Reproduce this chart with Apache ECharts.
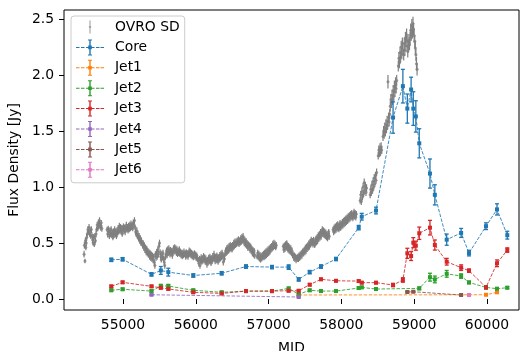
<!DOCTYPE html>
<html>
<head>
<meta charset="utf-8">
<script src="https://cdn.jsdelivr.net/npm/echarts@6/dist/echarts.min.js"></script>
<style>html,body{margin:0;padding:0;background:#fff}#chart{width:521px;height:351px}</style>
</head>
<body>
<div id="chart"></div>
<script>
// ---------- data ----------
const xTicks = [55000, 56000, 57000, 58000, 59000, 60000];
const yTicks = [0.0, 0.5, 1.0, 1.5, 2.0, 2.5];
const seriesNames = ['OVRO SD', 'Core', 'Jet1', 'Jet2', 'Jet3', 'Jet4', 'Jet5', 'Jet6'];
const seriesColors = ['#808080', '#1f77b4', '#ff7f0e', '#2ca02c', '#d62728', '#9467bd', '#8c564b', '#e377c2'];

// OVRO single-dish light curve: [MJD, flux, error]
const ovroPoints = [
[54466,0.40,0.03],[54470,0.48,0.03],[54478,0.34,0.02],[54484,0.52,0.03],[54490,0.46,0.025],[54496,0.50,0.03],[54502,0.55,0.03],[54510,0.58,0.025],[54518,0.62,0.03],[54526,0.60,0.025],[54534,0.64,0.03],[54542,0.58,0.025],[54550,0.61,0.03],[54558,0.56,0.025],[54566,0.62,0.03],[54574,0.57,0.025],[54582,0.53,0.03],[54590,0.50,0.025],[54598,0.55,0.03],[54606,0.49,0.025],[54614,0.56,0.03],[54622,0.52,0.025],[54630,0.58,0.03],[54638,0.62,0.025],[54646,0.66,0.03],[54654,0.63,0.025],[54662,0.68,0.03],[54670,0.65,0.025],[54678,0.70,0.03],[54686,0.66,0.025],[54694,0.64,0.03],[54702,0.68,0.025],[54710,0.63,0.03],
[54782,0.62,0.025],[54790,0.58,0.03],[54798,0.63,0.025],[54806,0.60,0.03],[54814,0.56,0.025],[54822,0.61,0.03],[54830,0.58,0.025],[54838,0.62,0.03],[54846,0.57,0.025],[54854,0.59,0.03],[54862,0.55,0.025],[54870,0.60,0.03],[54878,0.57,0.025],[54886,0.62,0.03],[54894,0.58,0.025],[54902,0.60,0.03],[54910,0.56,0.025],[54918,0.61,0.03],[54926,0.59,0.025],[54934,0.63,0.03],[54942,0.60,0.025],[54950,0.65,0.03],[54958,0.61,0.025],[54966,0.64,0.03],[54974,0.60,0.025],[54982,0.63,0.03],[54990,0.58,0.025],[54998,0.62,0.03],[55006,0.65,0.025],[55014,0.61,0.03],[55022,0.64,0.025],[55030,0.60,0.03],[55038,0.63,0.025],[55046,0.66,0.03],[55054,0.62,0.025],[55062,0.64,0.03],[55070,0.61,0.025],[55078,0.65,0.03],[55086,0.62,0.025],[55094,0.66,0.03],[55102,0.63,0.025],[55110,0.67,0.03],[55118,0.64,0.025],[55126,0.66,0.03],[55134,0.63,0.025],[55142,0.68,0.03],[55150,0.66,0.025],[55158,0.70,0.03],[55166,0.64,0.025],[55174,0.60,0.03],[55182,0.58,0.025],[55190,0.61,0.03],[55198,0.56,0.025],[55206,0.58,0.03],[55214,0.54,0.025],[55222,0.56,0.03],[55230,0.52,0.025],[55238,0.54,0.03],[55246,0.50,0.025],[55254,0.52,0.03],
[55262,0.50,0.025],[55270,0.48,0.03],[55278,0.50,0.025],[55286,0.46,0.03],[55294,0.48,0.025],[55302,0.44,0.03],[55310,0.46,0.025],[55318,0.42,0.03],[55326,0.45,0.025],[55334,0.41,0.03],[55342,0.43,0.025],[55350,0.40,0.03],[55358,0.42,0.025],[55366,0.38,0.03],[55374,0.41,0.025],[55382,0.37,0.03],[55390,0.40,0.025],[55398,0.36,0.03],[55406,0.39,0.025],[55414,0.35,0.03],[55422,0.38,0.025],[55430,0.33,0.03],[55438,0.30,0.03],
[55446,0.40,0.025],[55454,0.37,0.03],[55462,0.42,0.025],[55470,0.38,0.03],[55478,0.44,0.025],[55486,0.40,0.03],[55494,0.47,0.025],[55502,0.50,0.03],[55510,0.42,0.025],[55518,0.38,0.03],[55526,0.35,0.025],[55534,0.40,0.03],[55542,0.37,0.025],[55550,0.41,0.03],[55558,0.36,0.025],[55566,0.33,0.03],[55574,0.30,0.03],[55582,0.37,0.025],
[55590,0.40,0.025],[55598,0.43,0.03],[55606,0.39,0.025],[55614,0.44,0.03],[55622,0.41,0.025],[55630,0.45,0.03],[55638,0.42,0.025],[55646,0.40,0.03],[55654,0.44,0.025],[55662,0.41,0.03],[55670,0.43,0.025],[55678,0.39,0.03],[55686,0.42,0.025],[55694,0.45,0.03],[55702,0.42,0.025],[55710,0.46,0.03],[55718,0.43,0.025],[55726,0.45,0.03],[55734,0.41,0.025],[55742,0.44,0.03],[55750,0.40,0.025],[55758,0.43,0.03],[55766,0.41,0.025],[55774,0.44,0.03],[55782,0.40,0.025],[55790,0.42,0.03],[55798,0.39,0.025],[55806,0.41,0.03],[55814,0.38,0.025],[55822,0.41,0.03],[55830,0.39,0.025],[55838,0.42,0.03],[55846,0.40,0.025],
[55854,0.41,0.025],[55862,0.38,0.03],[55870,0.42,0.025],[55878,0.39,0.03],[55886,0.41,0.025],[55894,0.38,0.03],[55902,0.40,0.025],[55910,0.43,0.03],[55918,0.40,0.025],[55926,0.42,0.03],[55934,0.39,0.025],[55942,0.41,0.03],[55950,0.38,0.025],[55958,0.40,0.03],[55966,0.37,0.025],[55974,0.39,0.03],[55982,0.41,0.025],[55990,0.38,0.03],[55998,0.40,0.025],[56006,0.37,0.03],[56014,0.39,0.025],[56022,0.36,0.03],
[56034,0.35,0.025],[56042,0.32,0.03],[56050,0.36,0.025],[56058,0.30,0.03],[56066,0.34,0.025],[56074,0.37,0.03],[56082,0.33,0.025],[56090,0.36,0.03],[56098,0.34,0.025],[56106,0.38,0.03],[56114,0.35,0.025],[56122,0.37,0.03],[56130,0.33,0.025],[56138,0.36,0.03],[56146,0.34,0.025],[56154,0.31,0.03],[56162,0.35,0.025],[56170,0.33,0.03],[56178,0.37,0.025],[56186,0.34,0.03],[56194,0.38,0.025],[56202,0.35,0.03],[56210,0.32,0.025],[56218,0.36,0.03],[56226,0.34,0.025],[56234,0.38,0.03],[56242,0.36,0.025],[56250,0.40,0.03],[56258,0.37,0.025],[56266,0.34,0.03],[56274,0.38,0.025],[56282,0.35,0.03],[56290,0.39,0.025],[56298,0.36,0.03],[56306,0.33,0.025],[56314,0.37,0.03],[56322,0.35,0.025],[56330,0.39,0.03],[56338,0.36,0.025],[56346,0.40,0.03],[56354,0.37,0.025],[56362,0.41,0.03],[56370,0.38,0.025],[56378,0.33,0.03],[56386,0.39,0.025],[56394,0.36,0.03],
[56402,0.40,0.025],[56410,0.43,0.03],[56418,0.41,0.025],[56426,0.45,0.03],[56434,0.42,0.025],[56442,0.46,0.03],[56450,0.43,0.025],[56458,0.47,0.03],[56466,0.44,0.025],[56474,0.48,0.03],[56482,0.45,0.025],[56490,0.47,0.03],[56498,0.44,0.025],[56506,0.48,0.03],[56514,0.46,0.025],[56522,0.50,0.03],[56530,0.47,0.025],[56538,0.51,0.03],
[56546,0.48,0.025],[56554,0.51,0.03],[56562,0.49,0.025],[56570,0.52,0.03],[56578,0.50,0.025],[56586,0.53,0.03],[56594,0.49,0.025],[56602,0.52,0.03],[56610,0.50,0.025],[56618,0.54,0.03],[56626,0.51,0.025],[56634,0.55,0.03],[56642,0.52,0.025],[56650,0.56,0.03],[56658,0.53,0.025],[56666,0.50,0.03],[56674,0.53,0.025],[56682,0.49,0.03],[56690,0.52,0.025],[56698,0.48,0.03],[56706,0.50,0.025],[56714,0.46,0.03],
[56722,0.49,0.025],[56730,0.46,0.03],[56738,0.48,0.025],[56746,0.44,0.03],[56754,0.47,0.025],[56762,0.43,0.03],[56770,0.45,0.025],[56778,0.41,0.03],[56786,0.44,0.025],[56794,0.40,0.03],[56802,0.43,0.025],[56810,0.39,0.03],
[56842,0.38,0.025],[56850,0.41,0.03],[56858,0.37,0.025],[56866,0.40,0.03],[56874,0.36,0.025],[56882,0.39,0.03],[56890,0.35,0.025],[56898,0.38,0.03],[56906,0.36,0.025],[56914,0.39,0.03],[56922,0.37,0.025],[56930,0.40,0.03],[56938,0.37,0.025],[56946,0.41,0.03],[56954,0.38,0.025],[56962,0.42,0.03],[56970,0.39,0.025],[56978,0.43,0.03],[56986,0.40,0.025],[56994,0.44,0.03],[57002,0.41,0.025],[57010,0.45,0.03],[57018,0.42,0.025],[57026,0.46,0.03],[57034,0.44,0.025],[57042,0.47,0.03],[57050,0.45,0.025],[57058,0.49,0.03],[57066,0.46,0.025],[57074,0.50,0.03],[57082,0.47,0.025],[57090,0.49,0.03],[57098,0.46,0.025],[57106,0.48,0.03],
[57202,0.47,0.025],[57210,0.44,0.03],[57218,0.48,0.025],[57226,0.45,0.03],[57234,0.49,0.025],[57242,0.46,0.03],[57250,0.50,0.025],[57258,0.47,0.03],[57266,0.44,0.025],[57274,0.47,0.03],[57282,0.43,0.025],[57290,0.46,0.03],[57298,0.42,0.025],[57306,0.45,0.03],[57314,0.41,0.025],[57322,0.43,0.03],[57330,0.39,0.025],
[57338,0.40,0.025],[57346,0.37,0.03],[57354,0.39,0.025],[57362,0.36,0.03],[57370,0.38,0.025],[57378,0.35,0.03],[57386,0.37,0.025],[57394,0.36,0.03],[57402,0.38,0.025],[57410,0.36,0.03],[57418,0.39,0.025],[57426,0.37,0.03],[57434,0.40,0.025],[57442,0.38,0.03],[57450,0.41,0.025],[57458,0.39,0.03],[57466,0.42,0.025],
[57474,0.43,0.025],[57482,0.41,0.03],[57490,0.44,0.025],[57498,0.42,0.03],[57506,0.46,0.025],[57514,0.43,0.03],[57522,0.47,0.025],[57530,0.45,0.03],[57538,0.48,0.025],[57546,0.46,0.03],[57554,0.50,0.025],[57562,0.47,0.03],[57570,0.51,0.025],[57578,0.49,0.03],[57586,0.53,0.025],[57594,0.50,0.03],[57602,0.52,0.025],[57610,0.49,0.03],[57618,0.53,0.025],[57626,0.50,0.03],[57634,0.48,0.025],[57642,0.51,0.03],[57650,0.54,0.025],[57658,0.51,0.03],[57666,0.55,0.025],[57674,0.52,0.03],[57682,0.57,0.025],[57690,0.54,0.03],[57698,0.58,0.025],[57706,0.55,0.03],[57714,0.60,0.025],[57722,0.56,0.03],[57730,0.59,0.025],[57738,0.62,0.03],[57746,0.58,0.025],[57754,0.61,0.03],[57762,0.57,0.025],[57770,0.60,0.03],[57778,0.56,0.025],[57786,0.59,0.03],[57794,0.55,0.025],[57802,0.58,0.03],[57810,0.54,0.025],[57818,0.57,0.03],[57826,0.60,0.025],[57834,0.56,0.03],
[57886,0.62,0.025],[57894,0.60,0.03],[57902,0.64,0.025],[57910,0.61,0.03],[57918,0.65,0.025],[57926,0.62,0.03],[57934,0.66,0.025],[57942,0.63,0.03],[57950,0.67,0.025],[57958,0.64,0.03],[57966,0.62,0.025],[57974,0.65,0.03],[57982,0.68,0.025],[57990,0.64,0.03],[57998,0.67,0.025],[58006,0.65,0.03],[58014,0.69,0.025],[58022,0.66,0.03],[58030,0.70,0.025],[58038,0.67,0.03],[58046,0.71,0.025],[58054,0.68,0.03],[58062,0.72,0.025],[58070,0.69,0.03],[58078,0.73,0.025],[58086,0.70,0.03],[58094,0.74,0.025],[58102,0.71,0.03],[58110,0.75,0.025],[58118,0.72,0.03],[58126,0.76,0.025],[58134,0.73,0.03],[58142,0.77,0.025],[58150,0.74,0.03],[58158,0.72,0.025],[58166,0.75,0.03],[58174,0.78,0.025],[58182,0.74,0.03],[58190,0.77,0.025],[58198,0.73,0.03],[58206,0.76,0.025],
[58258,0.88,0.03],[58266,0.93,0.035],[58274,0.87,0.03],[58282,0.96,0.035],[58290,0.91,0.03],[58298,1.00,0.035],[58306,0.94,0.03],[58314,1.04,0.035],[58322,0.97,0.03],[58330,1.01,0.035],[58338,0.95,0.03],[58346,0.99,0.035],[58396,0.93,0.03],[58404,0.98,0.035],[58412,0.95,0.03],[58420,1.02,0.035],[58428,0.97,0.03],[58436,1.05,0.035],[58444,1.00,0.03],[58452,1.08,0.035],[58460,1.03,0.03],[58468,1.10,0.035],[58476,1.06,0.03],[58484,1.13,0.035],
[58506,1.28,0.035],[58514,1.33,0.04],[58522,1.30,0.035],[58530,1.35,0.04],[58538,1.31,0.035],[58546,1.36,0.04],[58554,1.33,0.035],
[58572,1.45,0.04],[58580,1.50,0.045],[58588,1.47,0.04],[58596,1.53,0.045],[58604,1.49,0.04],[58612,1.56,0.045],[58620,1.52,0.04],[58628,1.59,0.045],[58636,1.55,0.04],[58640,1.94,0.06],[58648,1.62,0.045],[58656,1.58,0.04],[58664,1.65,0.045],
[58672,1.72,0.045],[58680,1.78,0.05],[58688,1.75,0.045],[58696,1.82,0.05],[58704,1.78,0.045],[58712,1.86,0.05],[58720,1.81,0.045],[58728,1.90,0.05],[58736,1.85,0.045],[58744,1.93,0.05],[58752,1.88,0.045],[58760,1.95,0.05],
[58782,2.08,0.05],[58790,2.15,0.055],[58798,2.11,0.05],[58806,2.20,0.055],[58814,2.16,0.05],[58822,2.25,0.055],[58830,2.19,0.05],[58838,2.28,0.055],[58846,2.22,0.05],
[58856,2.18,0.05],[58864,2.28,0.055],[58872,2.22,0.05],[58880,2.33,0.055],[58888,2.26,0.05],[58896,2.36,0.055],[58904,2.30,0.05],[58912,2.21,0.055],[58920,2.25,0.05],[58928,2.31,0.055],[58936,2.27,0.05],
[58944,2.33,0.055],[58952,2.40,0.06],[58960,2.36,0.055],[58968,2.44,0.06],[58976,2.38,0.055],[58984,2.46,0.06],[58992,2.41,0.055],[59000,2.35,0.06],[59008,2.30,0.055],[59016,2.24,0.06],[59024,2.18,0.055],[59032,2.10,0.06],[59040,2.05,0.055]
];

// VLBI components
const coreMjd  = [54840,54995,55392,55520,55623,55966,56356,56690,57047,57276,57414,57565,57720,57926,58238,58280,58476,58710,58845,58906,58958,58988,59023,59070,59217,59284,59447,59645,59753,59987,60138,60279];
const coreFlux = [0.35,0.355,0.22,0.255,0.24,0.21,0.23,0.29,0.285,0.285,0.175,0.24,0.29,0.357,0.637,0.735,0.79,1.62,1.90,1.70,1.87,1.70,1.63,1.39,1.12,0.93,0.53,0.59,0.41,0.65,0.80,0.57];
const coreErr  = [0.015,0.015,0.015,0.035,0.035,0.015,0.015,0.015,0.015,0.02,0.015,0.015,0.015,0.015,0.02,0.03,0.03,0.14,0.15,0.13,0.11,0.15,0.14,0.13,0.13,0.09,0.05,0.04,0.025,0.03,0.05,0.035];

const jet1Mjd  = [57414,59987,60138];
const jet1Flux = [0.036,0.038,0.06];
const jet1Err  = [0.005,0.005,0.008];

const jet2Mjd  = [54840,54995,55392,55520,55623,55966,56356,56690,57047,57276,57414,57565,57720,57926,58238,58280,58476,59070,59217,59284,59447,59645,59753,59987,60138,60279];
const jet2Flux = [0.078,0.087,0.071,0.116,0.116,0.078,0.06,0.07,0.07,0.095,0.042,0.078,0.071,0.071,0.098,0.104,0.089,0.095,0.195,0.175,0.225,0.205,0.148,0.104,0.092,0.101];
const jet2Err  = [0.01,0.01,0.01,0.015,0.015,0.01,0.01,0.01,0.01,0.01,0.01,0.01,0.01,0.01,0.01,0.01,0.01,0.012,0.035,0.03,0.03,0.02,0.012,0.01,0.01,0.01];

const jet3Mjd  = [54840,54995,55392,55520,55623,55966,56356,56690,57047,57276,57414,57565,57720,57926,58238,58280,58476,58710,58845,58906,58958,58988,59023,59070,59217,59284,59447,59645,59753,59987,60138,60279];
const jet3Flux = [0.113,0.149,0.113,0.10,0.09,0.06,0.05,0.071,0.071,0.074,0.074,0.128,0.176,0.163,0.16,0.146,0.146,0.125,0.17,0.408,0.384,0.503,0.476,0.587,0.637,0.482,0.333,0.28,0.253,0.104,0.319,0.437];
const jet3Err  = [0.01,0.01,0.01,0.01,0.01,0.01,0.01,0.01,0.01,0.01,0.01,0.01,0.01,0.01,0.01,0.01,0.01,0.015,0.02,0.045,0.04,0.045,0.04,0.055,0.065,0.045,0.03,0.025,0.015,0.015,0.03,0.02];

const jet4Mjd  = [55392,57414];
const jet4Flux = [0.038,0.018];
const jet4Err  = [0.005,0.005];

const jet5Mjd  = [58906,58988,59645];
const jet5Flux = [0.063,0.065,0.036];
const jet5Err  = [0.006,0.006,0.005];

const jet6Mjd  = [59753];
const jet6Flux = [0.036];
const jet6Err  = [0.005];

// ---------- build ----------
const FONT = 'DejaVu Sans';
const FS = 13.9;
const comps = [
  [coreMjd, coreFlux, coreErr],
  [jet1Mjd, jet1Flux, jet1Err],
  [jet2Mjd, jet2Flux, jet2Err],
  [jet3Mjd, jet3Flux, jet3Err],
  [jet4Mjd, jet4Flux, jet4Err],
  [jet5Mjd, jet5Flux, jet5Err],
  [jet6Mjd, jet6Flux, jet6Err]
];

function errRender(color, capHalf, lw) {
  return function (params, api) {
    const x = api.value(0), y = api.value(1), e = api.value(2);
    const lo = api.coord([x, y - e]);
    const hi = api.coord([x, y + e]);
    const st = { stroke: color, lineWidth: lw };
    const ch = [{ type: 'line', shape: { x1: lo[0], y1: lo[1], x2: hi[0], y2: hi[1] }, style: st }];
    if (capHalf > 0) {
      ch.push({ type: 'line', shape: { x1: lo[0] - capHalf, y1: lo[1], x2: lo[0] + capHalf, y2: lo[1] }, style: st });
      ch.push({ type: 'line', shape: { x1: hi[0] - capHalf, y1: hi[1], x2: hi[0] + capHalf, y2: hi[1] }, style: st });
    }
    return { type: 'group', children: ch };
  };
}

const compIcon = 'path://M0 7.5h3.5v1h-3.5z M5 7.5h3.5v1h-3.5z M10 7.5h3.5v1h-3.5z M15 7.5h3.5v1h-3.5z M20 7.5h3.5v1h-3.5z M24.5 7.5h3.5v1h-3.5z M13.3 0h1.4v16h-1.4z M12 0h4v1h-4z M12 15h4v1h-4z M12.2 6.2h3.6v3.6h-3.6z';
const ovroIcon = 'path://M0 0h0.01v0.01h-0.01z M27.99 15.99h0.01v0.01h-0.01z M13.5 1.5h1v13h-1z M12.9 7.3h2.2v1.4h-2.2z';

const series = [];
// OVRO
series.push({
  name: 'OVRO SD err', type: 'custom', renderItem: errRender(seriesColors[0], 0, 1.2),
  data: ovroPoints, encode: { x: 0, y: 1 }, clip: true, silent: true, z: 2
});
series.push({
  name: 'OVRO SD', type: 'scatter', data: ovroPoints.map(p => [p[0], p[1]]),
  symbol: 'circle', symbolSize: 3, itemStyle: { color: seriesColors[0] }, z: 2, clip: true
});
comps.forEach((c, i) => {
  const col = seriesColors[i + 1];
  const rows = c[0].map((m, k) => [m, c[1][k], c[2][k]]);
  series.push({
    name: seriesNames[i + 1] + ' err', type: 'custom', renderItem: errRender(col, 2, 1.3),
    data: rows, encode: { x: 0, y: 1 }, clip: true, silent: true, z: 3
  });
  series.push({
    name: seriesNames[i + 1], type: 'line', data: rows.map(r => [r[0], r[1]]),
    symbol: 'rect', symbolSize: 4, showSymbol: true,
    itemStyle: { color: col },
    lineStyle: { color: col, width: 1, type: [3.5, 1.5], opacity: 0.85 },
    z: 3, clip: true
  });
});

const chart = echarts.init(document.getElementById('chart'), null, { renderer: 'canvas' });
chart.setOption({
  animation: false,
  backgroundColor: '#ffffff',
  textStyle: { fontFamily: FONT },
  grid: { left: 64, top: 10, right: 2, bottom: 41, show: true, borderColor: '#000', borderWidth: 1, backgroundColor: 'transparent', containLabel: false, outerBoundsMode: 'none' },
  xAxis: {
    type: 'value', min: 54190, max: 60440,
    name: 'MJD', nameLocation: 'middle', nameGap: 31,
    nameTextStyle: { fontFamily: FONT, fontSize: FS, color: '#000' },
    axisLine: { show: false },
    axisTick: { show: true, inside: false, length: 5, lineStyle: { color: '#000', width: 1 }, customValues: xTicks },
    axisLabel: { customValues: xTicks, fontFamily: FONT, fontSize: FS, color: '#000', margin: 8, formatter: v => String(v) },
    splitLine: { show: false }
  },
  yAxis: {
    type: 'value', min: -0.098, max: 2.58,
    name: 'Flux Density [Jy]', nameLocation: 'middle', nameGap: 33, nameRotate: 90,
    nameTextStyle: { fontFamily: FONT, fontSize: FS, color: '#000' },
    axisLine: { show: false },
    axisTick: { show: true, inside: false, length: 5, lineStyle: { color: '#000', width: 1 }, customValues: yTicks },
    axisLabel: { customValues: yTicks, fontFamily: FONT, fontSize: FS, color: '#000', margin: 10, formatter: v => v.toFixed(1) },
    splitLine: { show: false }
  },
  legend: {
    orient: 'vertical', left: 71, top: 16,
    padding: [3, 5, 5, 5], itemGap: 4.4, itemWidth: 28, itemHeight: 16,
    backgroundColor: 'rgba(255,255,255,0.8)', borderColor: '#cccccc', borderWidth: 1, borderRadius: 3,
    textStyle: { fontFamily: FONT, fontSize: FS, color: '#000', lineHeight: 16, padding: [0, 0, 0, 6] },
    itemStyle: { borderWidth: 0 },
    selectedMode: false,
    data: seriesNames.map((n, i) => ({ name: n, icon: i === 0 ? ovroIcon : compIcon, itemStyle: { color: seriesColors[i] } }))
  },
  series: series
});
</script>
</body>
</html>
